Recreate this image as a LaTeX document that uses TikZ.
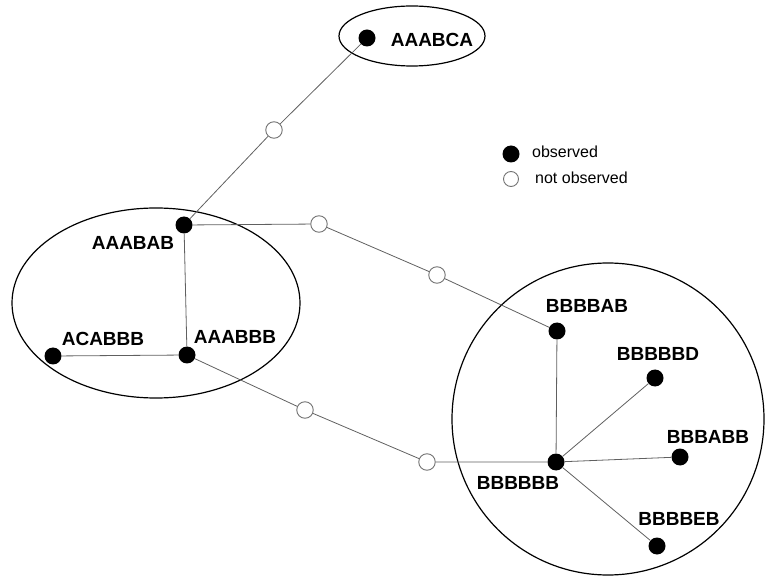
\documentclass[tikz,border=0pt]{standalone}
\usepackage{fontspec}
\setmainfont{Liberation Sans}
\usetikzlibrary{shapes.geometric,positioning}

\begin{document}
\begin{tikzpicture}[x=1pt,y=-1pt,
	  every node/.style={align=center},
	  observed/.style={circle,fill=black,minimum size=17pt,inner sep=0pt},
	  unobserved/.style={circle,draw=gray!90!black,fill=white,line width=0.9pt,minimum size=16.5pt,inner sep=0pt},
	  haplo/.style={font=\fontsize{19}{22}\selectfont\bfseries,inner sep=0pt},
	  legendtext/.style={font=\fontsize{16}{19}\selectfont,inner sep=0pt,anchor=west},
	  cluster/.style={draw=black,line width=1.2pt,inner sep=0pt},
	  link/.style={draw=gray!75!black,line width=0.8pt}]

	  \useasboundingbox (0,0) rectangle (766,577);

	  % Position the groups and the nodes at coordinates
	  \node[cluster,ellipse,minimum width=146pt,minimum height=60pt] (groupc) at (412,36) {};
	  \node[cluster,ellipse,minimum width=288pt,minimum height=190pt] (groupa) at (156,303) {};
	  \node[cluster,circle,minimum size=312pt] (groupb) at (608,419) {};

	  \node[observed] (aaabca) at (367,38) {};
	  \node[observed] (aaabab) at (184,225) {};
	  \node[observed] (acabbb) at (53,356) {};
	  \node[observed] (aaabbb) at (187,355) {};
	  \node[observed] (bbbbab) at (557,331) {};
	  \node[observed] (bbbbbd) at (655,378) {};
	  \node[observed] (bbbabb) at (680,457) {};
	  \node[observed] (bbbbbb) at (556,462) {};
	  \node[observed] (bbbbeb) at (657,546) {};

	  \node[unobserved] (missa) at (274,130) {};
	  \node[unobserved] (missb) at (319,224) {};
	  \node[unobserved] (missc) at (437,275) {};
	  \node[unobserved] (missd) at (305,410) {};
	  \node[unobserved] (misse) at (427,462) {};

	  \node[haplo] (aaabcat) at (432,40) {AAABCA};
	  \node[haplo] (aaababt) at (133,243) {AAABAB};
	  \node[haplo] (acabbbt) at (103,339) {ACABBB};
	  \node[haplo] (aaabbbt) at (235,337) {AAABBB};
	  \node[haplo] (bbbbabt) at (587,306) {BBBBAB};
	  \node[haplo] (bbbbbdt) at (658,354) {BBBBBD};
	  \node[haplo] (bbbabbt) at (708,437) {BBBABB};
	  \node[haplo] (bbbbbbt) at (518,483) {BBBBBB};
	  \node[haplo] (bbbbebt) at (679,519) {BBBBEB};

	  \draw[link] (aaabab) -- (missa) -- (aaabca);
	  \draw[link] (aaabab) -- (missb) -- (missc) -- (bbbbab);
	  \draw[link] (aaabab) -- (aaabbb);
	  \draw[link] (acabbb) -- (aaabbb);
	  \draw[link] (aaabbb) -- (missd) -- (misse) -- (bbbbbb);
	  \draw[link] (bbbbbb) -- (bbbbab);
	  \draw[link] (bbbbbb) -- (bbbbbd);
	  \draw[link] (bbbbbb) -- (bbbabb);
	  \draw[link] (bbbbbb) -- (bbbbeb);

	  % legend
	  \node[observed] (keyobs) at (511,154) {};
	  \node[unobserved,minimum size=15pt] (keymiss) at (511,179) {};
	  \node[legendtext] (keyobst) at (532,152) {observed};
	  \node[legendtext] (keymisst) at (535,178) {not observed};

\end{tikzpicture}
\end{document}
